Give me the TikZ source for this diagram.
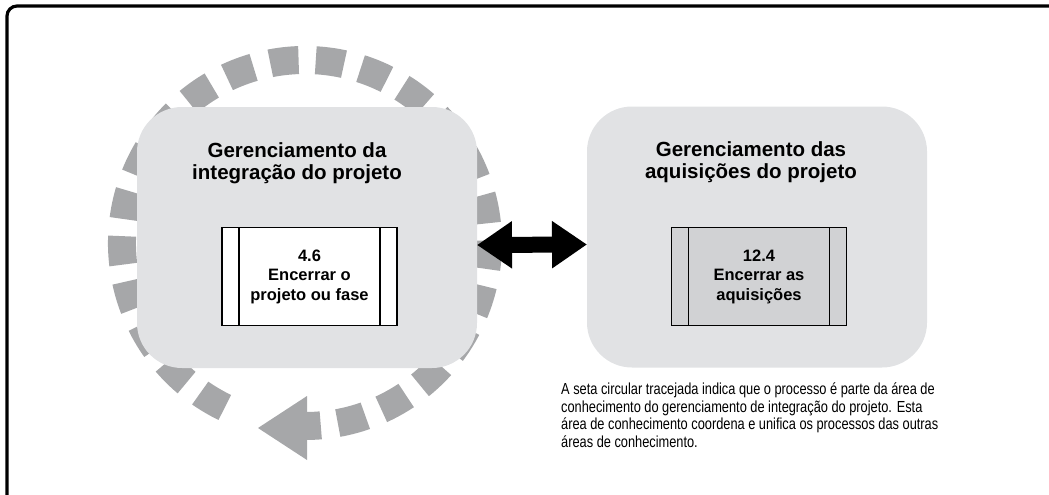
\documentclass[tikz,border=0pt]{standalone}
\usepackage{fontspec}
\setmainfont{Liberation Sans}
\newfontfamily\notefont[FakeStretch=0.8]{Liberation Sans}
\usetikzlibrary{arrows.meta}
\definecolor{ringgray}{RGB}{166,167,169}
\definecolor{panelgray}{RGB}{225,226,228}
\definecolor{procgray}{RGB}{209,210,212}

\begin{document}
\begin{tikzpicture}[x=1pt, y=-1pt,
  panel/.style={fill=panelgray, rounded corners=45pt, minimum width=340pt, minimum height=261pt, inner sep=0pt, outer sep=0pt},
  paneltitle/.style={align=center, inner sep=0pt, anchor=base, font=\bfseries\fontsize{20.5}{22}\selectfont},
  procbox/.style={draw, line width=1.2pt, minimum width=175pt, minimum height=98pt, align=center,
    font=\bfseries\fontsize{16.5}{19.5}\selectfont,
    path picture={
      \draw[line width=1.2pt] ([xshift=17pt]path picture bounding box.north west) -- ([xshift=17pt]path picture bounding box.south west);
      \draw[line width=1.2pt] ([xshift=-17pt]path picture bounding box.north east) -- ([xshift=-17pt]path picture bounding box.south east);
    }},
  ring/.style={draw=ringgray, line width=28pt, dash pattern=on 28.5pt off 17.2pt}]

  \useasboundingbox (0,0) rectangle (1049,495);
  \clip (0,0) rectangle (1049,495);
  \draw[line width=3.2pt, rounded corners=10pt] (7,6) rectangle (1060,508);

  % dashed circular arrow, behind the left panel
  \coordinate (ctr) at (305,243);
  \draw[ring] ([shift={(116:183)}]ctr) arc[start angle=116, end angle=450, radius=183];
  \fill[ringgray] (307,396) -- (307,460) -- (258,428) -- cycle;

  \node[panel] (intg) at (307,237.5) {};
  \node[panel] (aqui) at (757,237) {};

  \node[paneltitle] (intgtitle) at (297,179) {Gerenciamento da\\integração do projeto};
  \node[paneltitle] (aquititle) at (751,178) {Gerenciamento das\\aquisições do projeto};

  \node[procbox, fill=white] (encproj) at (309.5,276.5) {4.6\\Encerrar o\\projeto ou fase};
  \node[procbox, fill=procgray] (encaq) at (759,276.5) {12.4\\Encerrar as\\aquisições};

  \draw[line width=16pt, {Triangle[length=35pt,width=45pt]}-{Triangle[length=35pt,width=45pt]}]
    ([yshift=-7.5pt]intg.east) -- ([yshift=-7.5pt]aqui.west);

  \node[anchor=base west, align=left, inner sep=0pt, font=\notefont\fontsize{16}{17.5}\selectfont] (note) at (561,447)
    {A seta circular tracejada indica que o processo é parte da área de\\
     conhecimento do gerenciamento de integração do projeto. Esta\\
     área de conhecimento coordena e unifica os processos das outras\\
     áreas de conhecimento.};

\end{tikzpicture}
\end{document}
